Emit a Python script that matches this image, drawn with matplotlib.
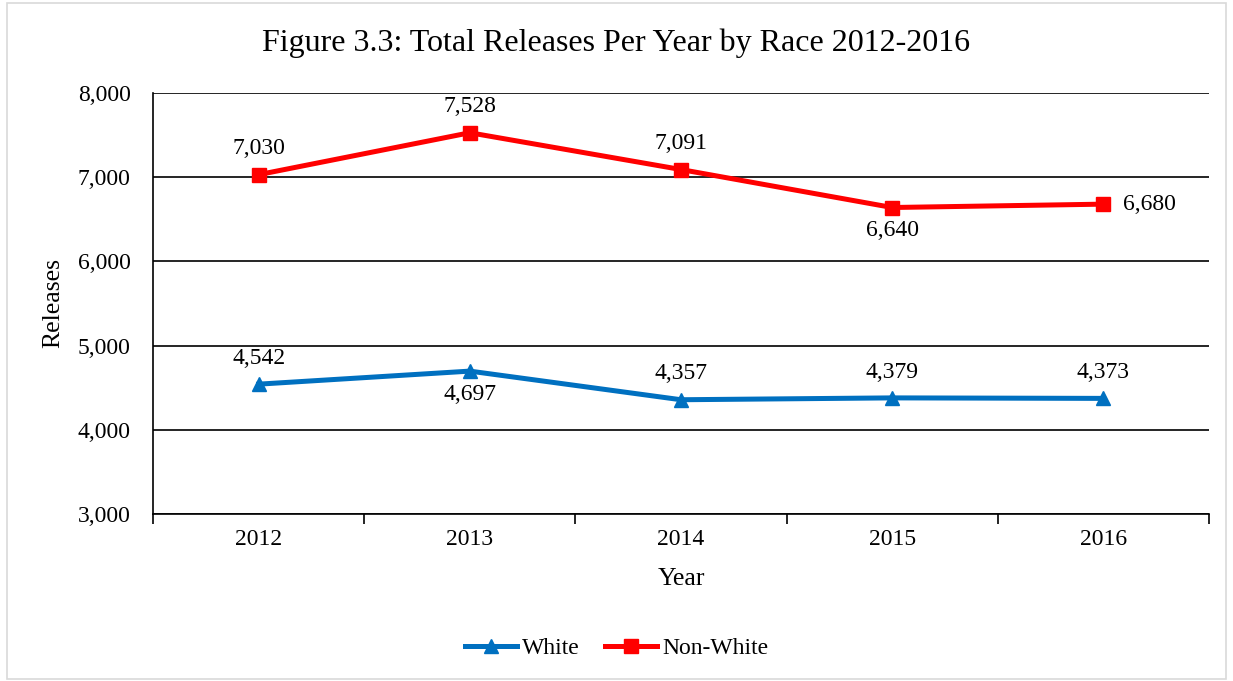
import matplotlib.pyplot as plt
from matplotlib.patches import Rectangle

years = ["2012", "2013", "2014", "2015", "2016"]
white = [4542, 4697, 4357, 4379, 4373]
non_white = [7030, 7528, 7091, 6640, 6680]

# where each data label sits relative to its point
white_pos = ["above", "below", "above", "above", "above"]
non_white_pos = ["above", "above", "above", "below", "right"]

plt.rcParams['font.family'] = ['Liberation Serif', 'DejaVu Serif']

fig = plt.figure(figsize=(12.33, 6.81), dpi=100)
ax = fig.add_axes([153 / 1233, 1 - 514 / 681, (1209 - 153) / 1233, (514 - 93) / 681])

# light border around the whole chart
fig.patches.append(Rectangle((7 / 1233, 2 / 681), 1219 / 1233, 676 / 681,
                             transform=fig.transFigure, fill=False,
                             edgecolor='#d9d9d9', linewidth=1.2))

x = list(range(len(years)))
ax.plot(x, white, color='#0070C0', linewidth=3.6, marker='^', markersize=10,
        label='White', zorder=3)
ax.plot(x, non_white, color='#FF0000', linewidth=3.6, marker='s', markersize=9.5,
        label='Non-White', zorder=3)

def annotate(vals, pos):
    for i, (v, p) in enumerate(zip(vals, pos)):
        if p == "above":
            off, ha, va = (0, 11), 'center', 'bottom'
        elif p == "below":
            off, ha, va = (0, -9), 'center', 'top'
        else:
            off, ha, va = (14, 0), 'left', 'center'
        ax.annotate(f"{v:,}", (i, v), xytext=off, textcoords='offset points',
                    ha=ha, va=va, fontsize=17)

annotate(white, white_pos)
annotate(non_white, non_white_pos)

ax.set_xlim(-0.5, 4.5)
ax.set_ylim(3000, 8000)
ax.set_yticks(range(3000, 8001, 1000))
ax.set_yticklabels([f"{v:,}" for v in range(3000, 8001, 1000)], fontsize=17)
ax.set_xticks(x)
ax.set_xticklabels(years, fontsize=17)
ax.set_xticks([i - 0.5 for i in range(len(years) + 1)], minor=True)
ax.tick_params(axis='x', which='major', length=0, pad=11)
ax.tick_params(axis='x', which='minor', length=7, width=1.2, direction='out')
ax.tick_params(axis='y', length=0, pad=16)

ax.grid(axis='y', color='black', linewidth=1.2)
ax.set_axisbelow(True)
for s in ['top', 'right']:
    ax.spines[s].set_visible(False)
for s in ['left', 'bottom']:
    ax.spines[s].set_linewidth(1.2)

ax.set_xlabel("Year", fontsize=18.5, labelpad=13)
ax.set_ylabel("Releases", fontsize=18.5, labelpad=10)
fig.text(0.5, 1 - 43 / 681, "Figure 3.3: Total Releases Per Year by Race 2012-2016",
         ha='center', va='center', fontsize=23)

fig.legend(loc='center', bbox_to_anchor=(0.5, 1 - 648 / 681), ncol=2, frameon=False,
           fontsize=17, handlelength=2.2, columnspacing=1.1, handletextpad=0.2)

fig.savefig("out.png", dpi=100)
